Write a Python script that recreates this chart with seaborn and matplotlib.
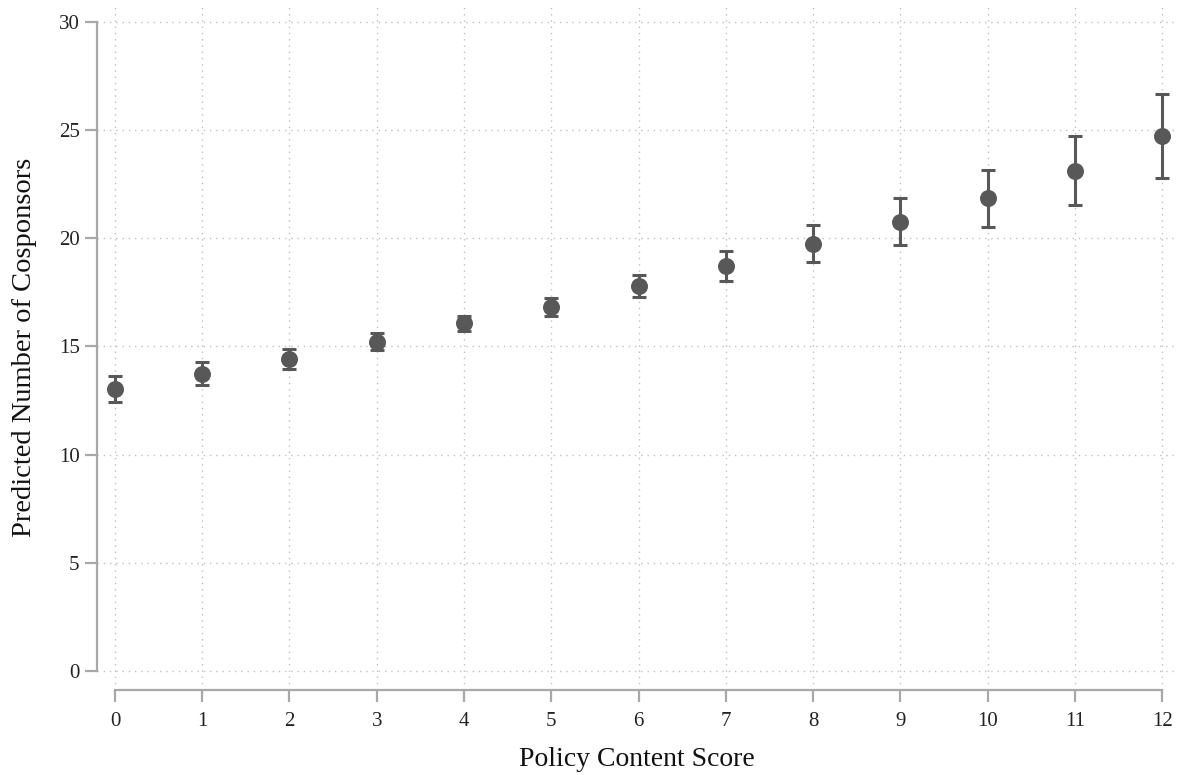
import numpy as np
import pandas as pd
import seaborn as sns
import matplotlib.pyplot as plt

# Predicted cosponsors by policy content score (point estimate + 95% CI)
score = [0, 1, 2, 3, 4, 5, 6, 7, 8, 9, 10, 11, 12]
predicted = [13.04, 13.73, 14.42, 15.20, 16.09, 16.83, 17.80, 18.69, 19.74, 20.74, 21.84, 23.12, 24.70]
ci_low = [12.42, 13.21, 13.95, 14.81, 15.72, 16.41, 17.29, 18.03, 18.88, 19.70, 20.53, 21.51, 22.77]
ci_high = [13.65, 14.27, 14.87, 15.61, 16.41, 17.24, 18.31, 19.39, 20.59, 21.84, 23.16, 24.72, 26.66]

y_ticks = [0, 5, 10, 15, 20, 25, 30]

df = pd.DataFrame({"score": score, "predicted": predicted, "lo": ci_low, "hi": ci_high})

sns.set_style("white")
plt.rcParams["font.family"] = ["Liberation Serif", "DejaVu Serif"]

mark_color = "#585858"
axis_color = "#a8a8a8"

fig = plt.figure(figsize=(11.77, 7.75), dpi=100)
ax = fig.add_axes([0.0824, 0.1097, 0.9176, 0.8838])

ax.errorbar(df["score"], df["predicted"],
            yerr=[df["predicted"] - df["lo"], df["hi"] - df["predicted"]],
            fmt="none", ecolor=mark_color, elinewidth=2.2, capsize=5, capthick=2.2, zorder=3)
sns.scatterplot(data=df, x="score", y="predicted", ax=ax, color=mark_color,
                s=150, edgecolor=mark_color, linewidth=0, zorder=4, legend=False)

ax.set_xlim(-0.206, 12.17)
ax.set_ylim(-0.88, 30.77)
ax.set_xticks(score)
ax.set_yticks(y_ticks)

ax.grid(True, linestyle=(0, (1, 3.5)), color="#c0c0c0", linewidth=1.0)
ax.set_axisbelow(True)

sns.despine(ax=ax, top=True, right=True)
ax.spines["left"].set_bounds(0, 30)
ax.spines["bottom"].set_bounds(0, 12)
for side in ["left", "bottom"]:
    ax.spines[side].set_color(axis_color)
    ax.spines[side].set_linewidth(1.6)

ax.tick_params(axis="both", bottom=True, left=True, length=8.5, width=1.6, color=axis_color,
               labelsize=15, labelcolor="#222222", pad=7, direction="out")
ax.tick_params(axis="y", pad=4)

ax.set_xlabel("Policy Content Score", fontsize=20, color="#111111", labelpad=12)
ax.set_ylabel("Predicted Number of Cosponsors", fontsize=20.5, color="#111111", labelpad=16)

fig.savefig("out.png", dpi=100)
plt.close(fig)
